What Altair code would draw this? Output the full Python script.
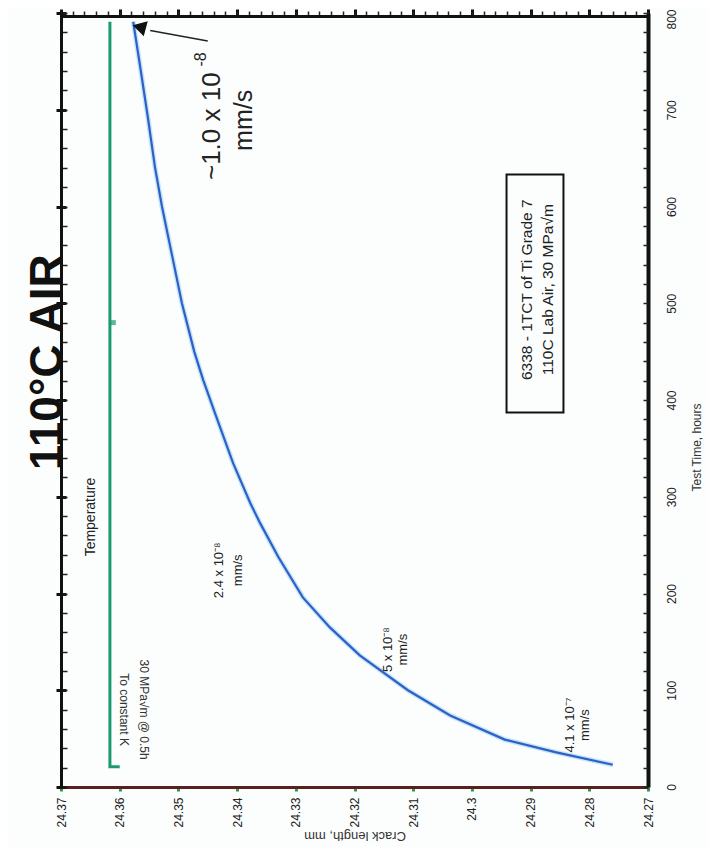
import altair as alt
import pandas as pd

# ---- data ----
hours = [23, 36, 49, 74, 100, 136, 165, 196, 238, 273, 294, 335, 387, 421,
         450, 500, 550, 600, 641, 692, 744, 791]
crack_mm = [24.2760, 24.2858, 24.2944, 24.3037, 24.3109, 24.3191, 24.3242,
            24.3288, 24.3330, 24.3361, 24.3378, 24.3407, 24.3438, 24.3458,
            24.3473, 24.3494, 24.3511, 24.3528, 24.3540, 24.3552, 24.3565,
            24.3577]

temp_seq = [0, 1, 2]
temp_hours = [21, 21, 791]
temp_c = [108.0, 110, 110]
temp_mark_hours = [480]
temp_mark_c = [109.3]

crack_ticks = [24.27, 24.28, 24.29, 24.30, 24.31, 24.32, 24.33, 24.34, 24.35, 24.36, 24.37]
crack_minor = [round(24.27 + 0.002 * i, 3) for i in range(51)]
hour_ticks = [0, 100, 200, 300, 400, 500, 600, 700, 800]
hour_minor = list(range(0, 801, 20))

# annotation texts (reading bottom to top)
ann_text = ["~1.0 x 10", "-8", "mm/s", "2.4 x 10⁻⁸", "mm/s", "5 x 10⁻⁸", "mm/s",
            "4.1 x 10⁻⁷", "mm/s", "6338 - 1TCT of Ti Grade 7",
            "110C Lab Air, 30 MPa√m", "Temperature"]
ann_crack = [24.3442, 24.3462, 24.3389, 24.3430, 24.3399, 24.3143, 24.3117,
             24.2833, 24.2807, 24.2906, 24.2871, 24.3649]
ann_hours = [683, 752, 689, 224, 224, 142, 142, 64, 64, 514, 514, 279]
ann_size = [26, 16, 25, 13, 13, 13, 13, 13, 13, 15.5, 15.5, 14]

const_text = ["To constant K", "30 MPa√m @ 0.5h"]
const_crack = [24.3592, 24.3558]
const_hours = [80, 80]

title_text = ["110°C AIR"]
title_crack = [24.3722]
title_hours = [439]

box_crack = [24.2941]
box_crack2 = [24.2844]
box_hours = [387]
box_hours2 = [633]

arrow_crack = [24.3450, 24.3548]
arrow_hours = [771, 782]
head_crack = [24.3563]
head_hours = [785]

df = pd.DataFrame({"hours": hours, "crack": crack_mm})
tdf = pd.DataFrame({"seq": temp_seq, "hours": temp_hours, "temp": temp_c})
tmdf = pd.DataFrame({"hours": temp_mark_hours, "temp": temp_mark_c})
adf = pd.DataFrame({"t": ann_text, "crack": ann_crack, "hours": ann_hours, "size": ann_size})
cdf = pd.DataFrame({"t": const_text, "crack": const_crack, "hours": const_hours})
ttl = pd.DataFrame({"t": title_text, "crack": title_crack, "hours": title_hours})
bdf = pd.DataFrame({"c1": box_crack, "c2": box_crack2, "h1": box_hours, "h2": box_hours2})
ardf = pd.DataFrame({"crack": arrow_crack, "hours": arrow_hours})
hdf = pd.DataFrame({"crack": head_crack, "hours": head_hours})

FONT = "Liberation Sans"
xs = alt.Scale(domain=[24.27, 24.37], reverse=True, nice=False, zero=False)
ys = alt.Scale(domain=[0, 800], nice=False, zero=False)
ts = alt.Scale(domain=[0, 120], reverse=True, nice=False, zero=False)

ax_bottom = alt.Axis(orient="bottom", values=crack_ticks, labelAngle=270,
                     labelAlign="right", labelBaseline="middle",
                     labelExpr="format(datum.value, '.2f') == '24.30' ? '24.3' : format(datum.value, '.2f')",
                     labelFont=FONT, labelFontSize=12, labelColor="#222",
                     labelPadding=6, tickColor="#2f9a4a", tickSize=4, tickWidth=3,
                     domainColor="#5a2020", domainWidth=3, grid=False,
                     title="Crack length, mm", titleAngle=180, titleFont=FONT,
                     titleFontSize=13, titleFontWeight="normal", titleColor="#333",
                     titlePadding=14)
ax_right = alt.Axis(orient="right", values=hour_ticks, labelAngle=270,
                    labelAlign="center", labelBaseline="top", format="d",
                    labelFont=FONT, labelFontSize=12, labelColor="#222",
                    labelPadding=18,
                    labelOffset={"condition": {"test": "datum.value == 800", "value": 6}, "value": 0},
                    ticks=False, domainColor="#111",
                    domainWidth=4, grid=False, title="Test Time, hours",
                    titleAngle=270, titleFont=FONT, titleFontSize=12,
                    titleFontWeight="normal", titleColor="#333", titlePadding=26,
                    titleY=434)
ax_top_major = alt.Axis(orient="top", values=crack_ticks, labels=False, title=None,
                        tickSize=8, tickWidth=3, tickColor="#111", offset=-4,
                        domain=False, grid=False)
ax_top_minor = alt.Axis(orient="top", values=crack_minor, labels=False, title=None,
                        tickSize=5, tickWidth=1.5, tickColor="#222", offset=-3,
                        domainColor="#111", domainWidth=3, grid=False)
ax_left_major = alt.Axis(orient="left", values=hour_ticks, labels=False, title=None,
                         tickSize=10, tickWidth=3, tickColor="#111", offset=-5,
                         domain=False, grid=False)
ax_left_minor = alt.Axis(orient="left", values=hour_minor, labels=False, title=None,
                         tickSize=6, tickWidth=1.5, tickColor="#222", offset=-6,
                         domain=False, grid=False)
ax_left_line = alt.Axis(orient="left", values=[], labels=False, title=None,
                        ticks=False, domainColor="#111", domainWidth=3, grid=False)
ax_right_minor = alt.Axis(orient="right", values=hour_minor, labels=False, title=None,
                          tickSize=5, tickWidth=1.5, tickColor="#222", offset=-5,
                          domain=False, grid=False)

halo = alt.Chart(df).mark_line(color="#8fd0ee", strokeWidth=5, opacity=0.5).encode(
    x=alt.X("crack:Q", scale=xs, axis=None),
    y=alt.Y("hours:Q", scale=ys, axis=None),
    order="hours:Q",
)
curve = alt.Chart(df).mark_line(color="#2f5fc8", strokeWidth=2.2).encode(
    x=alt.X("crack:Q", scale=xs, axis=ax_bottom),
    y=alt.Y("hours:Q", scale=ys, axis=ax_right),
    order="hours:Q",
)

temp = alt.Chart(tdf).mark_line(color="#1d9a6c", strokeWidth=3).encode(
    x=alt.X("temp:Q", scale=ts, axis=None),
    y=alt.Y("hours:Q", scale=ys, axis=None),
    order="seq:Q",
)
tmark = alt.Chart(tmdf).mark_point(color="#1d9a6c", filled=True, size=25, shape="square").encode(
    x=alt.X("temp:Q", scale=ts, axis=None),
    y=alt.Y("hours:Q", scale=ys, axis=None),
)

texts = alt.Chart(adf).mark_text(font=FONT, color="#222", angle=270).encode(
    x=alt.X("crack:Q", scale=xs, axis=ax_top_major),
    y=alt.Y("hours:Q", scale=ys, axis=ax_left_major),
    text="t:N",
    size=alt.Size("size:Q", scale=None, legend=None),
)

const = alt.Chart(cdf).mark_text(font=FONT, color="#333", angle=90, fontSize=12).encode(
    x=alt.X("crack:Q", scale=xs, axis=ax_top_minor),
    y=alt.Y("hours:Q", scale=ys, axis=ax_left_minor),
    text="t:N",
)

title = alt.Chart(ttl).mark_text(font=FONT, color="#111", angle=270, fontSize=46,
                                 fontWeight="bold").encode(
    x=alt.X("crack:Q", scale=xs, axis=None),
    y=alt.Y("hours:Q", scale=ys, axis=ax_left_line),
    text="t:N",
)

box = alt.Chart(bdf).mark_rect(fill=None, stroke="#111", strokeWidth=2).encode(
    x=alt.X("c1:Q", scale=xs, axis=None), x2="c2:Q",
    y=alt.Y("h1:Q", scale=ys, axis=ax_right_minor), y2="h2:Q",
)

arrow = alt.Chart(ardf).mark_line(color="#222", strokeWidth=1.5).encode(
    x=alt.X("crack:Q", scale=xs, axis=None),
    y=alt.Y("hours:Q", scale=ys, axis=None),
)
head = alt.Chart(hdf).mark_point(shape="triangle", filled=True, color="#111",
                                 size=240, angle=285, opacity=1).encode(
    x=alt.X("crack:Q", scale=xs, axis=None),
    y=alt.Y("hours:Q", scale=ys, axis=None),
)

chart = alt.layer(halo, curve, temp, tmark, texts, const, title, box, arrow, head).resolve_scale(
    x="independent"
).resolve_axis(x="independent", y="independent").properties(
    width=587, height=774,
    autosize=alt.AutoSizeParams(type="none"),
    padding={"left": 53, "top": 5, "right": 60, "bottom": 60},
    background="#fcfefe",
).configure_view(stroke=None)

chart.save("out.html", embed_options={"renderer": "svg", "actions": False})
